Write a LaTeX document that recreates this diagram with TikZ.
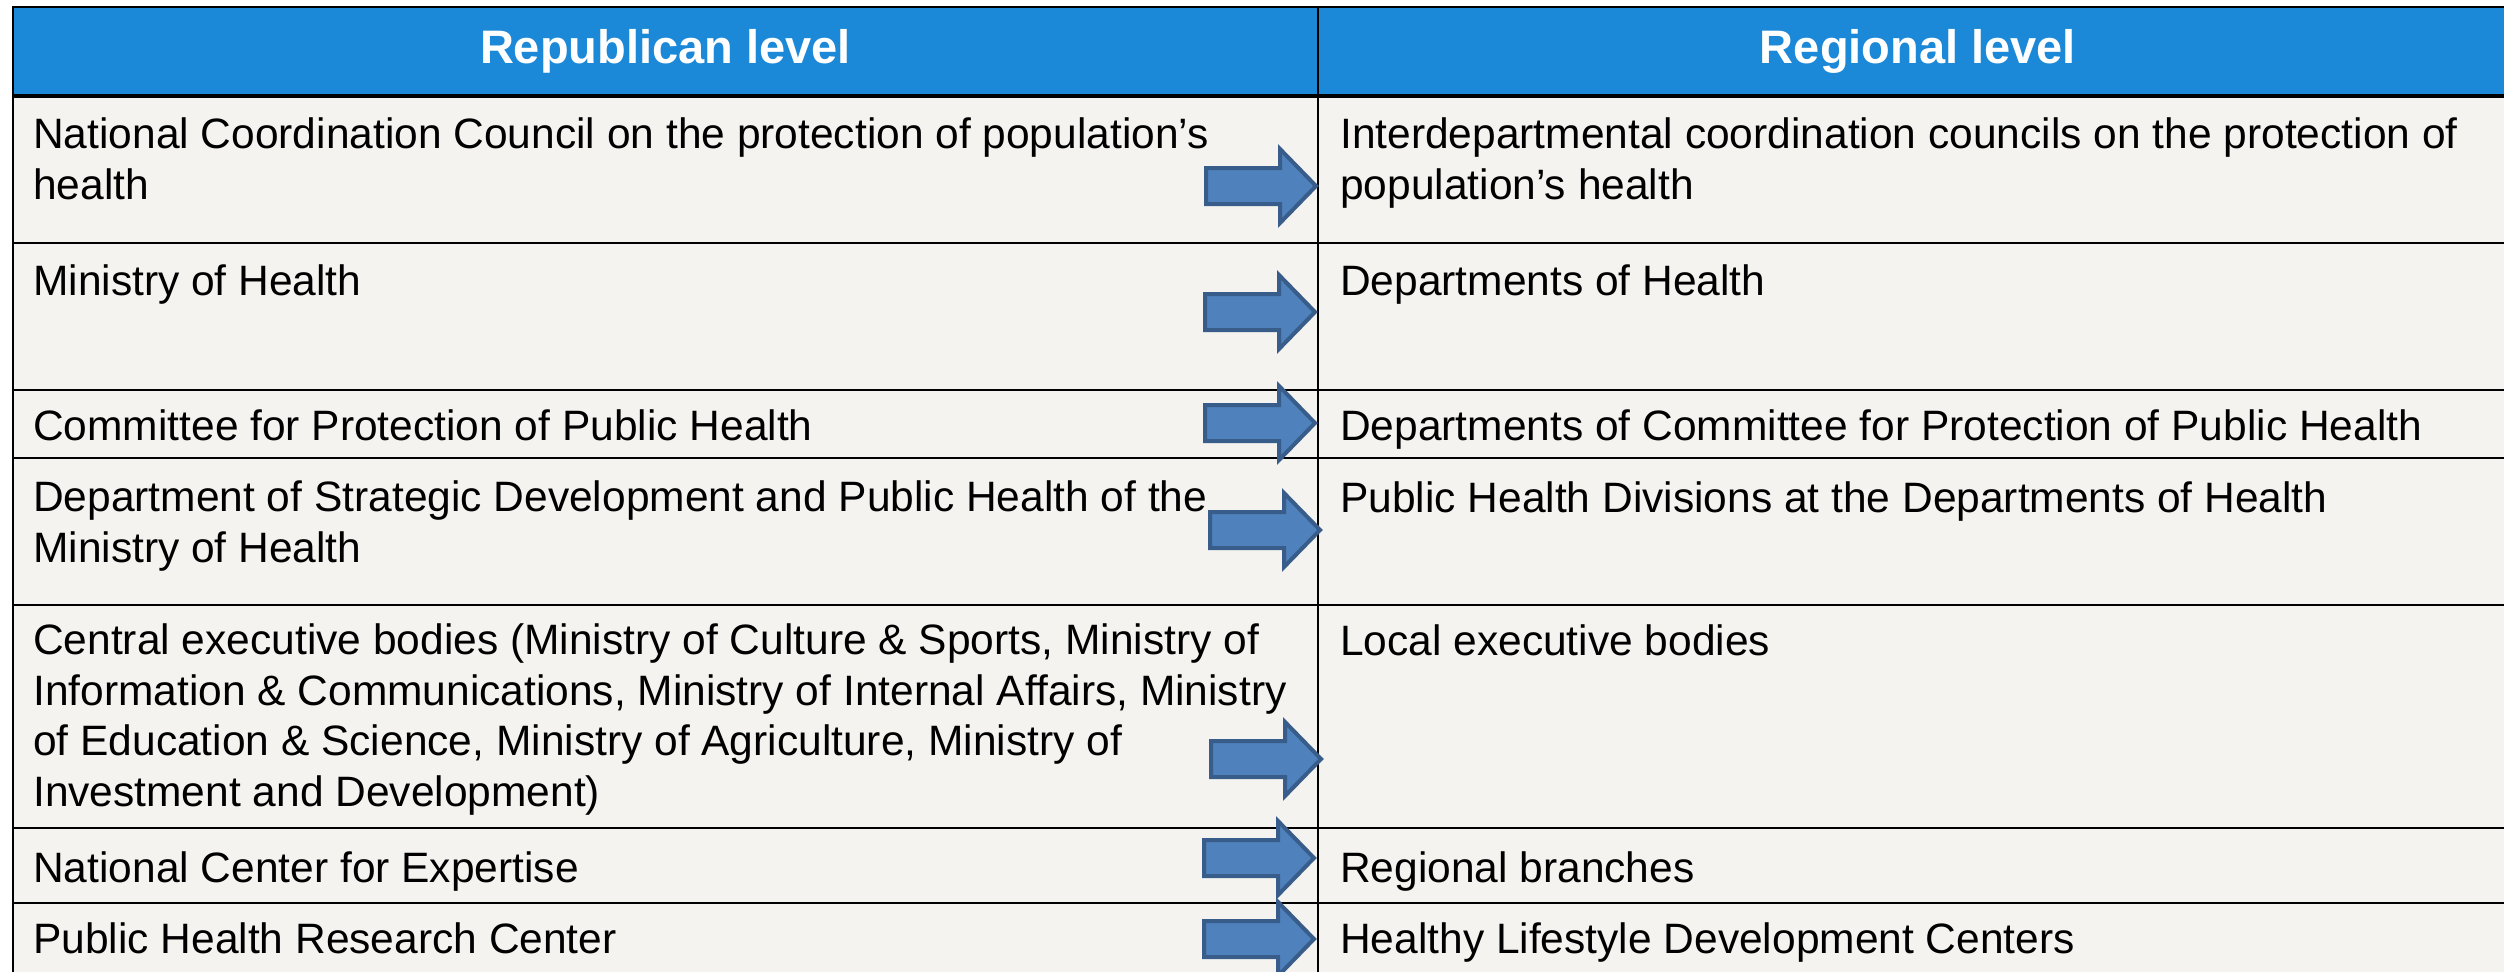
\documentclass[tikz,border=0pt]{standalone}
\usepackage{fontspec}
\setmainfont{Liberation Sans}
\definecolor{headblue}{RGB}{27,137,216}
\definecolor{cellbg}{RGB}{244,243,239}
\definecolor{arrowfill}{RGB}{79,129,189}
\definecolor{arrowedge}{RGB}{56,93,138}
\begin{document}
\begin{tikzpicture}[x=1pt,y=-1pt,
  cell/.style={anchor=base west, inner sep=0pt, align=left, font=\fontsize{42.5}{50.5}\selectfont, text=black},
  head/.style={anchor=base, inner sep=0pt, font=\fontsize{47}{56}\selectfont\bfseries, text=white},
  gridline/.style={draw=black, line width=2.5pt},
  blockarrow/.style={fill=arrowfill, draw=arrowedge, line width=4pt, line join=miter},
  barrow/.pic={\path[blockarrow] (-110,-18) -- (-36,-18) -- (-36,-37) -- (0,0) -- (-36,37) -- (-36,18) -- (-110,18) -- cycle;}
]
\useasboundingbox[fill=white] (0,0) rectangle (2504,972);
% backgrounds
\fill[headblue] (13,7) rectangle (2520,96);
\fill[cellbg] (13,96) rectangle (2520,980);
% grid
\draw[gridline] (13,7) -- (2520,7);
\draw[gridline, line width=3.5pt] (13,96) -- (2520,96);
\foreach \yy in {243,390,458,605,828,903}
  \draw[gridline] (13,\yy) -- (2520,\yy);
\draw[gridline] (13,6) -- (13,980);
\draw[gridline] (1318,6) -- (1318,980);
% headers
\node[head] (hl) at (665.5,63) {Republican level};
\node[head] (hr) at (1918,63) {Regional level};
% left column (anchor = baseline of last line)
\node[cell] (l1) at (33,199) {National Coordination Council on the protection of population’s\\health};
\node[cell] (l2) at (33,295) {Ministry of Health};
\node[cell] (l3) at (33,440) {Committee for Protection of Public Health};
\node[cell] (l4) at (33,562) {Department of Strategic Development and Public Health of the\\Ministry of Health};
\node[cell] (l5) at (33,806) {Central executive bodies (Ministry of Culture \& Sports, Ministry of\\Information \& Communications, Ministry of Internal Affairs, Ministry\\of Education \& Science, Ministry of Agriculture, Ministry of\\Investment and Development)};
\node[cell] (l6) at (33,882) {National Center for Expertise};
\node[cell] (l7) at (33,953) {Public Health Research Center};
% right column
\node[cell] (r1) at (1340,199) {Interdepartmental coordination councils on the protection of\\population’s health};
\node[cell] (r2) at (1340,295) {Departments of Health};
\node[cell] (r3) at (1340,440) {Departments of Committee for Protection of Public Health};
\node[cell] (r4) at (1340,512) {Public Health Divisions at the Departments of Health};
\node[cell] (r5) at (1340,655) {Local executive bodies};
\node[cell] (r6) at (1340,882) {Regional branches};
\node[cell] (r7) at (1340,953) {Healthy Lifestyle Development Centers};
% arrows
\pic at (1316,186) {barrow};
\pic at (1315,312) {barrow};
\pic at (1315,423) {barrow};
\pic at (1320,530) {barrow};
\pic at (1321,759) {barrow};
\pic at (1314,858) {barrow};
\pic at (1314,939) {barrow};
\end{tikzpicture}
\end{document}
